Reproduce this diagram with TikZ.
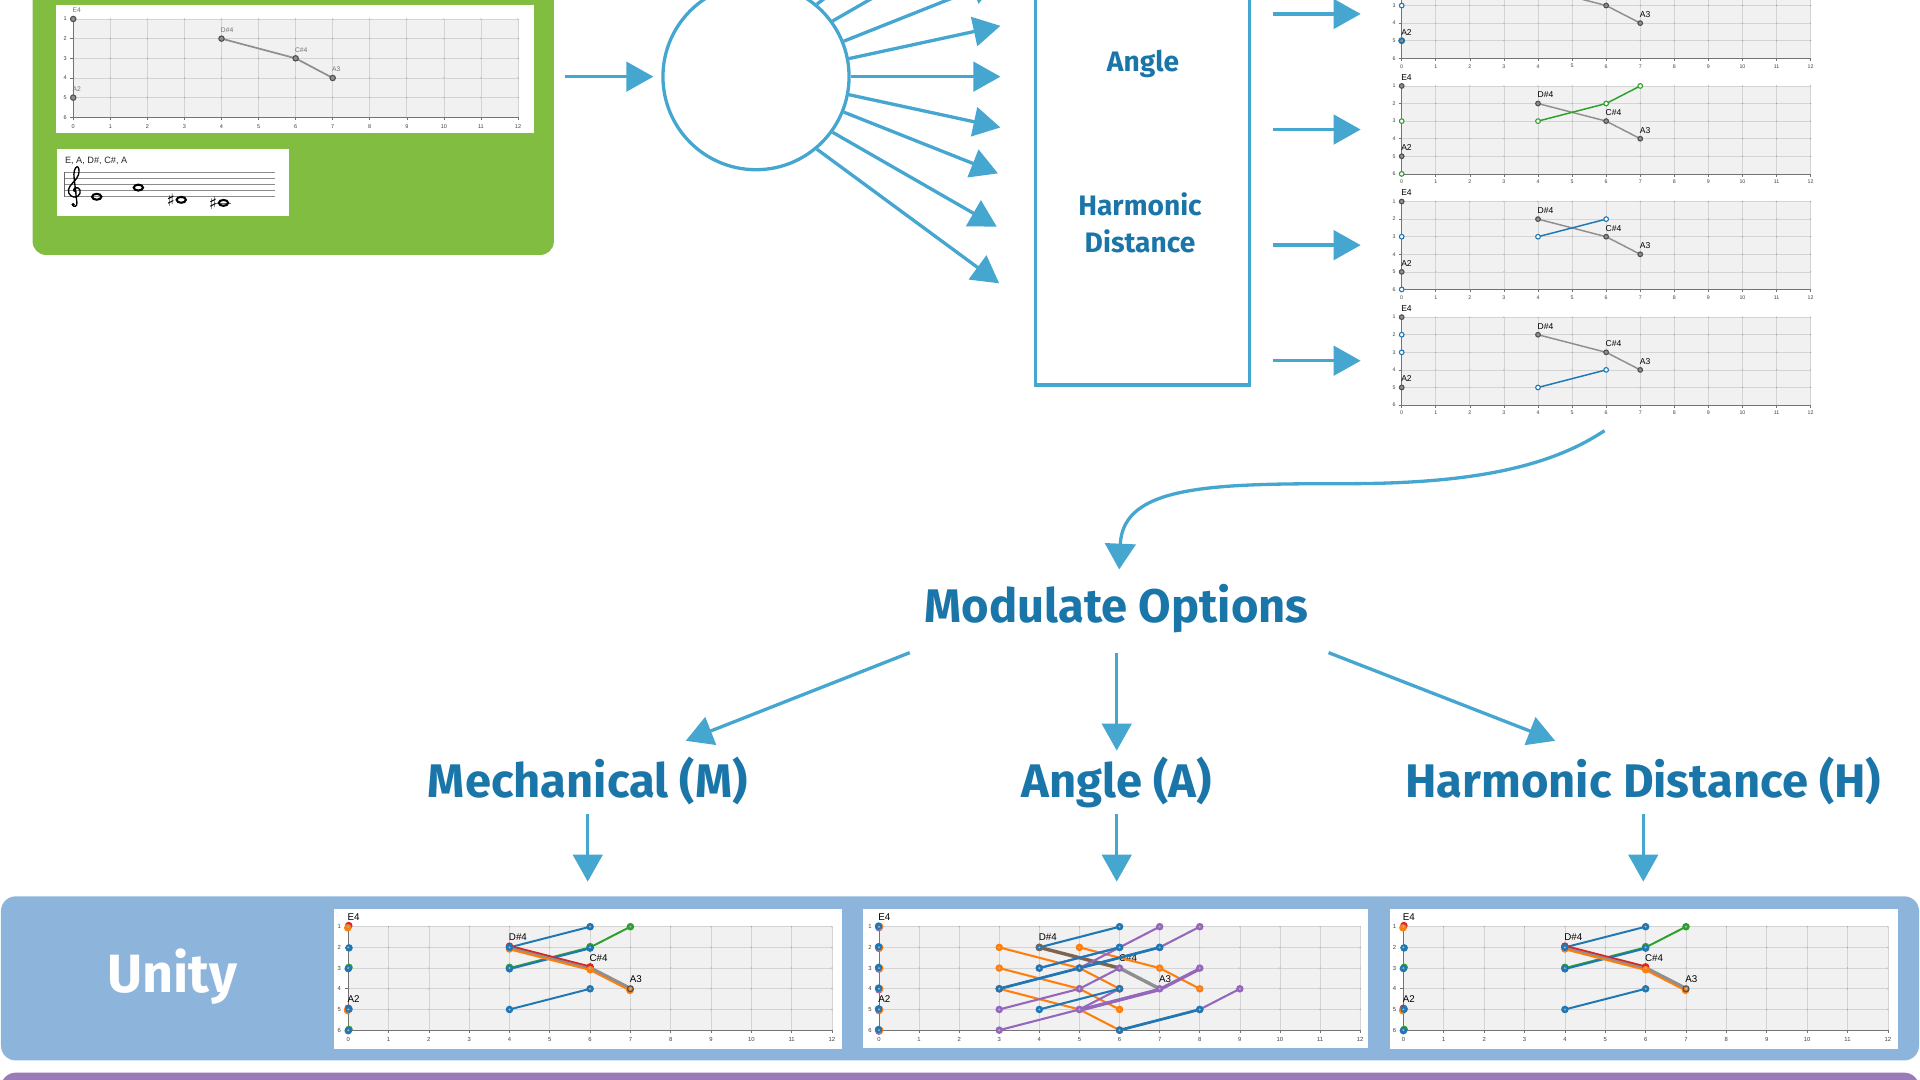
\documentclass[tikz,border=0pt]{standalone}
\usepackage{fontspec}
\setmainfont{Fira Sans}
\newfontfamily\plotfont{Liberation Sans}
\newfontfamily\symfont{DejaVu Sans}
\usetikzlibrary{arrows.meta}
\definecolor{flow}{HTML}{45A6D0}
\definecolor{ink}{HTML}{1A76A8}
\definecolor{leaf}{HTML}{80BD41}
\definecolor{unityband}{HTML}{8DB5DB}
\definecolor{purpleband}{HTML}{9A7BB7}
\definecolor{plotbg}{HTML}{F0F1F0}
\definecolor{gridc}{HTML}{D4D4D4}
\definecolor{tabblue}{HTML}{1F77B4}
\definecolor{taborange}{HTML}{FF7F0E}
\definecolor{tabgreen}{HTML}{2CA02C}
\definecolor{tabred}{HTML}{D62728}
\definecolor{tabpurple}{HTML}{9467BD}
\definecolor{melody}{HTML}{8F8F8F}
\definecolor{melodydark}{HTML}{505050}
\definecolor{brownmix}{HTML}{7E6450}

% #1 tick font size, #2 first y row that gets a tick label
\newcommand{\chartgrid}[2]{%
  \fill[plotbg] (0,1) rectangle (12,6);
  \foreach \i in {1,...,12} {\draw[gridc, line width=0.6pt] (\i,1) -- (\i,6);}
  \foreach \j in {1,...,5} {\draw[gridc, line width=0.6pt] (0,\j) -- (12,\j);}
  \foreach \i in {1,...,12} {\foreach \j in {1,...,5} {\fill[black!40] (\i,\j) circle[radius=0.5pt];}}
  \draw[black!55, line width=0.5pt] (0,1) -- (0,6) -- (12,6);
  \foreach \i in {0,...,12} {\draw[black!55, line width=0.5pt] (\i,6) -- (\i,6.15);
    \node[ticklbl, font=\plotfont\fontsize{#1}{#1}\selectfont] (xt\i) at (\i,6.45) {\i};}
  \foreach \j in {1,...,6} {\draw[black!55, line width=0.5pt] (0,\j) -- (-0.08,\j);}
  \foreach \j in {#2,...,6} {\node[ticklbl, font=\plotfont\fontsize{#1}{#1}\selectfont] (yt\j) at (-0.22,\j) {\j};}
}
% #1 font size, #2 colour
\newcommand{\notelabels}[2]{%
  \node[notelbl, font=\plotfont\fontsize{#1}{#1}\selectfont, text=#2] (lbE) at (-0.02,0.68) {E4};
  \node[notelbl, font=\plotfont\fontsize{#1}{#1}\selectfont, text=#2] (lbA2) at (-0.02,4.68) {A2};
  \node[notelbl, font=\plotfont\fontsize{#1}{#1}\selectfont, text=#2] (lbD) at (3.98,1.68) {D\#4};
  \node[notelbl, font=\plotfont\fontsize{#1}{#1}\selectfont, text=#2] (lbC) at (5.98,2.68) {C\#4};
  \node[notelbl, font=\plotfont\fontsize{#1}{#1}\selectfont, text=#2] (lbA3) at (6.98,3.68) {A3};
}
\newcommand{\melodyline}[1]{%
  \draw[melody, line width=#1] (4,2) -- (6,3) -- (7,4);
}
\newcommand{\melodypts}[1]{%
  \foreach \p in {(0,1),(0,5),(4,2),(6,3),(7,4)} {\draw[melodydark, fill=melody, line width=0.9pt] \p circle[radius=#1];}
}
\newcommand{\openpt}[3]{\draw[#1, fill=white, line width=0.9pt] #2 circle[radius=#3];}
% unity dots: colour, point, xshift, yshift
\newcommand{\ud}[4]{\fill[#1, xshift=#3, yshift=#4] #2 circle[radius=3.1pt];}
\newcommand{\mechcontent}{%
  \draw[melody, line width=3.2pt] (4,2) -- (6,3) -- (7,4);
  \draw[tabgreen, line width=1.6pt] (4,3) -- (6,2) -- (7,1);
  \draw[tabblue, line width=1.6pt] (4,2) -- (6,1);
  \draw[tabblue, line width=1.6pt, yshift=-0.8pt] (4,3) -- (6,2);
  \draw[tabblue, line width=1.6pt] (4,5) -- (6,4);
  \draw[tabred, line width=1.7pt, yshift=1.2pt] (4,2) -- (6,3);
  \draw[taborange, line width=1.7pt, yshift=-1.5pt] (4,2) -- (6,3) -- (7,4);
  \draw[melody, line width=1.1pt] (4,2) -- (6,3) -- (7,4);
  \ud{tabred}{(0,1)}{0.4pt}{0.9pt} \ud{taborange}{(0,1)}{-0.4pt}{-0.9pt}
  \ud{tabblue}{(0,2)}{0.6pt}{-0.4pt}
  \ud{tabgreen}{(0,3)}{0.6pt}{0.6pt} \ud{tabblue}{(0,3)}{0pt}{-0.4pt}
  \ud{tabred}{(0,5)}{0pt}{1pt} \ud{taborange}{(0,5)}{-0.6pt}{-0.9pt} \ud{tabblue}{(0,5)}{0.6pt}{0.3pt}
  \ud{tabgreen}{(0,6)}{0.6pt}{0.6pt} \ud{tabblue}{(0,6)}{0pt}{-0.4pt}
  \ud{tabred}{(4,2)}{0pt}{1pt} \ud{taborange}{(4,2)}{0pt}{-1.3pt} \ud{tabblue}{(4,2)}{0pt}{0pt}
  \ud{tabred}{(6,3)}{0pt}{1pt} \ud{taborange}{(6,3)}{0pt}{-1.3pt}
  \ud{taborange}{(7,4)}{-0.4pt}{-1.3pt}
  \draw[melodydark, line width=1pt] (7,4) circle[radius=2.4pt];
  \ud{tabblue}{(6,1)}{0pt}{0pt} \ud{tabgreen}{(7,1)}{0pt}{0pt}
  \ud{tabgreen}{(6,2)}{0pt}{0.6pt} \ud{tabblue}{(6,2)}{0pt}{-0.6pt}
  \ud{tabgreen}{(4,3)}{0pt}{0.6pt} \ud{tabblue}{(4,3)}{0pt}{-0.6pt}
  \ud{tabblue}{(4,5)}{0pt}{0pt} \ud{tabblue}{(6,4)}{0pt}{0pt}
  \foreach \p in {(0,1),(0,2),(0,3),(0,5),(0,6),(4,2),(6,3),(7,4),(6,1),(7,1),(6,2),(4,3),(4,5),(6,4)} {\fill[black!30] \p circle[radius=0.9pt];}
  \notelabels{8}{black}
}

\begin{document}
\begin{tikzpicture}[x=1pt, y=-1pt,
  flowarrow/.style={draw=flow, line width=2.7pt, -{Triangle[length=22pt,width=24pt]}},
  flowline/.style={draw=flow, line width=2.7pt},
  headline/.style={text=ink, font=\bfseries\fontsize{38.5}{46}\selectfont, inner sep=0pt, anchor=base},
  boxtext/.style={text=ink, font=\bfseries\fontsize{23}{30.5}\selectfont, inner sep=0pt, align=center},
  ticklbl/.style={inner sep=0pt, text=black!75},
  notelbl/.style={inner sep=0pt, anchor=base west}]
\useasboundingbox (0,0) rectangle (1568,882);

% ---------- green input panel ----------
\fill[leaf, rounded corners=11pt] (26.6,-40) rectangle (452.3,208.2);
\fill[white] (45.5,4.2) rectangle (436.5,109);
\begin{scope}[shift={(59.8,-0.56)}, x=30.27pt, y=-16.06pt]
  \chartgrid{4.5}{1}
  \melodyline{1.4pt}
  \melodypts{2.2pt}
  \notelabels{5.5}{black!55}
\end{scope}
% staff
\fill[white] (46.8,121.7) rectangle (235.7,176.1);
\node[anchor=base west, inner sep=0pt, font=\plotfont\fontsize{7.5}{9}\selectfont, text=black!85] (staffcap) at (52.9,133.4) {E, A, D\#, C\#, A};
\foreach \k in {0,...,4} {\draw[black!45, line width=0.5pt] (52.9,140.7+5*\k) -- (224.2,140.7+5*\k);}
\draw[black!60, line width=0.6pt] (52.9,140.7) -- (52.9,160.7);
\draw[black, line width=1.1pt, line cap=round]
 (62.3,156.8) .. controls (60.3,157.3) and (59.2,154.6) .. (61.5,153.4)
 .. controls (65,152) and (67.5,157.5) .. (63.5,160.3)
 .. controls (59.5,162.5) and (55,159) .. (56,154.5)
 .. controls (57,150.5) and (62.5,147.5) .. (64,143)
 .. controls (65,139.5) and (64.5,136) .. (63,136.2)
 .. controls (61,136.5) and (59.8,141) .. (60.6,146)
 -- (62.8,165.5)
 .. controls (63.2,168.5) and (60.5,169.5) .. (59.2,167.5);
\fill[black] (59.7,167) circle[radius=1.4pt];
\draw[black!60, line width=0.5pt] (175.5,165.7) -- (189,165.7);
\foreach \nx/\ny in {79/160.7, 113/153.2, 148/163.2, 182.5/165.7}
  {\draw[black, line width=1.7pt] (\nx,\ny) ellipse[x radius=3.8pt, y radius=2.4pt];}
\node[inner sep=0pt, font=\symfont\fontsize{14}{14}\selectfont] (sharpD) at (139.5,163.4) {♯};
\node[inner sep=0pt, font=\symfont\fontsize{14}{14}\selectfont] (sharpC) at (174,165.9) {♯};

% ---------- hub and fan ----------
\coordinate (greenout) at (461.7,62.6);
\node[circle, draw=flow, line width=2.7pt, minimum size=152pt, inner sep=0pt] (hub) at (617.4,62.6) {};
\coordinate (hubin) at (533.6,62.6);
\draw[flowarrow] (greenout) -- (hubin);
\coordinate (f0) at (817,62.6);
\coordinate (fu1) at (817,21.1);
\coordinate (fd1) at (817,104.1);
\coordinate (fu2) at (815,-16.4);
\coordinate (fd2) at (815,141.6);
\coordinate (fu3) at (814,-59.9);
\coordinate (fd3) at (814,185.1);
\coordinate (fu4) at (816,-106.2);
\coordinate (fd4) at (816,231.4);
\draw[flowarrow] (hub.0) -- (f0);
\draw[flowarrow] (hub.11.7) -- (fu1);
\draw[flowarrow] (hub.-11.7) -- (fd1);
\draw[flowarrow] (hub.22.8) -- (fu2);
\draw[flowarrow] (hub.-22.8) -- (fd2);
\draw[flowarrow] (hub.36.7) -- (fu3);
\draw[flowarrow] (hub.-36.7) -- (fd3);
\draw[flowarrow] (hub.50.5) -- (fu4);
\draw[flowarrow] (hub.-50.5) -- (fd4);

% ---------- criteria box ----------
\draw[flow, line width=2.8pt] (845.5,-30) rectangle (1020.4,314.4);
\node[boxtext, anchor=base] (angletxt) at (933.5,58.5) {Angle};
\node[boxtext] (harmtxt) at (931,181.8) {Harmonic\\Distance};
\foreach \k/\yy in {1/11.4, 2/105.8, 3/200.2, 4/294.6} {
  \coordinate (ra\k) at (1039.3,\yy);
  \coordinate (rb\k) at (1111.2,\yy);
  \draw[flowarrow] (ra\k) -- (rb\k);
}

% ---------- right column charts ----------
\begin{scope}[shift={(1144.7,-38.56)}, x=27.83pt, y=-14.36pt]
  \chartgrid{4.3}{3}
  \melodyline{1.2pt}
  \melodypts{1.9pt}
  \openpt{tabblue}{(0,3)}{1.9pt}
  \draw[tabblue, line width=1pt] (0,5) circle[radius=2.3pt];
  \node[notelbl, font=\plotfont\fontsize{7}{7}\selectfont] (lbA2x) at (-0.02,4.68) {A2};
  \node[notelbl, font=\plotfont\fontsize{7}{7}\selectfont] (lbA3x) at (6.98,3.68) {A3};
\end{scope}
\begin{scope}[shift={(1144.7,55.84)}, x=27.83pt, y=-14.36pt]
  \chartgrid{4.3}{1}
  \melodyline{1.2pt}
  \draw[tabgreen, line width=1.2pt] (4,3) -- (6,2) -- (7,1);
  \melodypts{1.9pt}
  \foreach \p in {(4,3),(6,2),(7,1),(0,3),(0,6)} {\openpt{tabgreen}{\p}{1.9pt}}
  \notelabels{7}{black}
\end{scope}
\begin{scope}[shift={(1144.7,150.24)}, x=27.83pt, y=-14.36pt]
  \chartgrid{4.3}{1}
  \melodyline{1.2pt}
  \draw[tabblue, line width=1.2pt] (4,3) -- (6,2);
  \melodypts{1.9pt}
  \foreach \p in {(4,3),(6,2),(0,3),(0,6)} {\openpt{tabblue}{\p}{1.9pt}}
  \notelabels{7}{black}
\end{scope}
\begin{scope}[shift={(1144.7,244.64)}, x=27.83pt, y=-14.36pt]
  \chartgrid{4.3}{1}
  \melodyline{1.2pt}
  \draw[tabblue, line width=1.2pt] (4,5) -- (6,4);
  \melodypts{1.9pt}
  \foreach \p in {(4,5),(6,4),(0,2),(0,3)} {\openpt{tabblue}{\p}{1.9pt}}
  \notelabels{7}{black}
\end{scope}

% ---------- curved connector ----------
\coordinate (curvestart) at (1310.3,351.7);
\coordinate (modtip) at (914,465);
\draw[flowline, -{Triangle[length=21pt,width=25pt]}] (curvestart) .. controls (1265,382) and (1200,395) .. (1100,395)
  .. controls (990,395) and (917,396) .. (modtip);

% ---------- modulate options ----------
\node[headline] (modopt) at (912,508) {Modulate Options};
\node[headline] (mech) at (480,651) {Mechanical (M)};
\node[headline] (angopt) at (912,651) {Angle (A)};
\node[headline] (harmopt) at (1342,651) {Harmonic Distance (H)};
\coordinate (mol) at (743,533);
\coordinate (moc) at (912,533);
\coordinate (mor) at (1085,533);
\coordinate (mecht) at (560,605);
\coordinate (angt) at (912,613);
\coordinate (harmt) at (1270,605);
\draw[flowarrow] (mol) -- (mecht);
\draw[flowarrow] (moc) -- (angt);
\draw[flowarrow] (mor) -- (harmt);
\foreach \nm/\xx in {m/480, a/912, h/1342} {
  \coordinate (s\nm) at (\xx,665);
  \coordinate (e\nm) at (\xx,720);
  \draw[flowarrow] (s\nm) -- (e\nm);
}

% ---------- unity band ----------
\fill[unityband, rounded corners=12pt] (0.8,732) rectangle (1567.2,866);
\fill[purpleband, rounded corners=12pt] (0.8,876) rectangle (1567.2,960);
\node[inner sep=0pt, anchor=base, text=white, font=\bfseries\fontsize{44}{50}\selectfont] (unity) at (140.7,810.7) {Unity};
\fill[white] (272.6,742.6) rectangle (687.4,856.5);
\fill[white] (705,742.6) rectangle (1117.5,855.8);
\fill[white] (1135.4,742.6) rectangle (1549.7,856.5);

\begin{scope}[shift={(284.4,739.9)}, x=32.92pt, y=-16.9pt]
  \chartgrid{4.8}{1}
  \mechcontent
\end{scope}
\begin{scope}[shift={(1146.1,739.9)}, x=32.97pt, y=-16.9pt]
  \chartgrid{4.8}{1}
  \mechcontent
\end{scope}

\begin{scope}[shift={(717.8,739.9)}, x=32.75pt, y=-16.9pt]
  \chartgrid{4.8}{1}
  \node[notelbl, font=\plotfont\fontsize{8}{8}\selectfont] (lbCa) at (5.98,2.68) {C\#4};
  \draw[melody, line width=2.8pt] (6,3) -- (7,4);
  \draw[brownmix, line width=2.8pt] (4,2) -- (6,3);
  \foreach \a/\b in {3/2, 3/3, 3/4, 5/2} {
    \draw[taborange, line width=1.7pt] (\a,\b) -- ({\a+2},{\b+1}) -- ({\a+3},{\b+2});
  }
  \foreach \a/\b in {4/3, 5/3, 3/4, 3/5, 3/6, 5/5, 6/6} {
    \draw[tabpurple, line width=1.7pt] (\a,\b) -- ({\a+2},{\b-1}) -- ({\a+3},{\b-2});
  }
  \draw[tabpurple, line width=1.7pt, yshift=-1.2pt] (5,5) -- (7,4) -- (8,3);
  \draw[tabblue, line width=1.7pt] (4,2) -- (6,1);
  \draw[tabblue, line width=1.7pt] (4,3) -- (6,2);
  \draw[tabblue, line width=2.2pt] (3,4) -- (5,3) -- (7,2);
  \draw[tabblue, line width=1.7pt] (4,5) -- (6,4);
  \draw[tabblue, line width=2.2pt] (6,6) -- (8,5);
  \foreach \j in {1,...,6} {\ud{tabpurple}{(0,\j)}{0pt}{-0.8pt} \ud{taborange}{(0,\j)}{0.6pt}{0pt} \ud{tabblue}{(0,\j)}{-0.3pt}{0.5pt}}
  \foreach \p in {(3,2),(5,3),(6,4),(3,3),(5,4),(6,5),(3,4),(5,5),(6,6),(5,2),(7,3),(8,4)} {\ud{taborange}{\p}{0pt}{0pt}}
  \foreach \p in {(4,3),(6,2),(7,1),(5,3),(7,2),(8,1),(3,4),(3,5),(5,4),(6,3),(3,6),(5,5),(6,4),(7,4),(8,3),(6,6),(8,5),(9,4)} {\ud{tabpurple}{\p}{0pt}{0pt}}
  \foreach \p in {(4,2),(6,1),(4,3),(6,2),(3,4),(5,3),(7,2),(4,5),(6,4),(6,6),(8,5)} {\ud{tabblue}{\p}{0pt}{0pt}}
  \draw[brownmix, line width=1pt] (4,2) circle[radius=2.6pt];
  \foreach \p in {(0,1),(0,2),(0,3),(0,4),(0,5),(0,6),(3,2),(5,3),(6,4),(3,3),(5,4),(6,5),(3,4),(5,5),(6,6),(5,2),(7,3),(8,4),(4,3),(6,2),(7,1),(7,2),(8,1),(3,5),(6,3),(3,6),(7,4),(8,3),(8,5),(9,4),(4,2),(6,1),(4,5)} {\fill[black!30] \p circle[radius=0.9pt];}
  \node[notelbl, font=\plotfont\fontsize{8}{8}\selectfont] (lbEa) at (-0.02,0.68) {E4};
  \node[notelbl, font=\plotfont\fontsize{8}{8}\selectfont] (lbA2a) at (-0.02,4.68) {A2};
  \node[notelbl, font=\plotfont\fontsize{8}{8}\selectfont] (lbDa) at (3.98,1.68) {D\#4};
  \node[notelbl, font=\plotfont\fontsize{8}{8}\selectfont] (lbA3a) at (6.98,3.68) {A3};
\end{scope}
\end{tikzpicture}
\end{document}
